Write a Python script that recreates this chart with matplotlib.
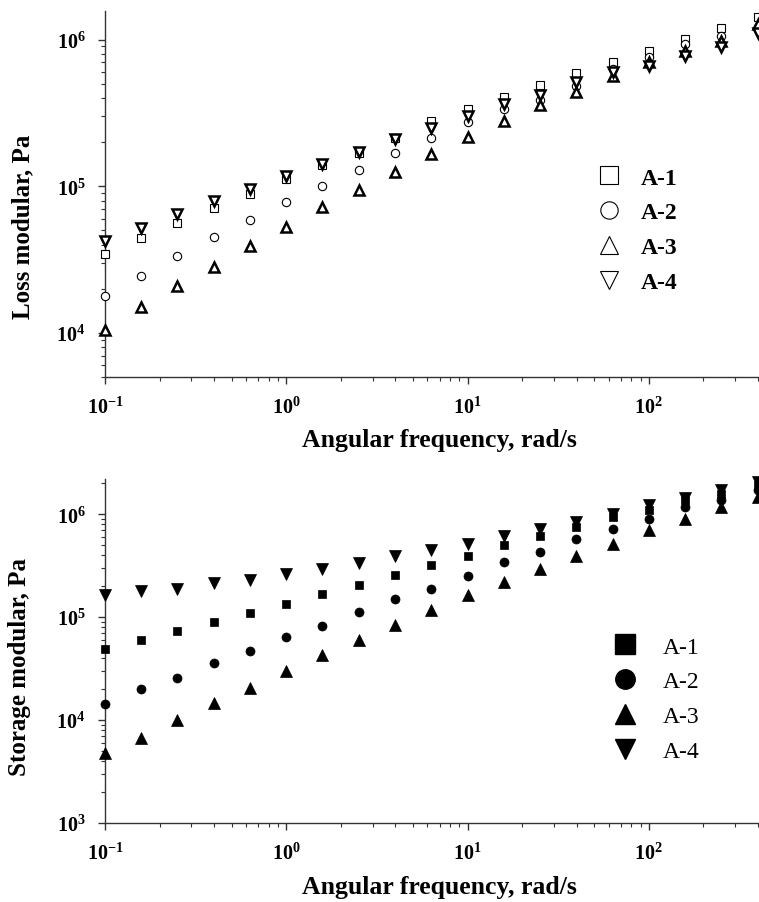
import matplotlib
matplotlib.use('Agg')
import matplotlib.pyplot as plt
from matplotlib.lines import Line2D
from matplotlib.ticker import LogLocator, NullFormatter

plt.rcParams['font.family'] = ['Liberation Serif', 'DejaVu Serif']
plt.rcParams['font.weight'] = 'bold'
plt.rcParams['axes.unicode_minus'] = True

# angular frequency, rad/s
freq = [0.1, 0.158, 0.251, 0.398, 0.631, 1.0, 1.58, 2.51, 3.98, 6.31,
        10, 15.8, 25.1, 39.8, 63.1, 100, 158, 251, 398]

labels = ['A-1', 'A-2', 'A-3', 'A-4']

# loss modulus, Pa
loss_a1 = [34300, 44100, 56400, 71300, 89200, 113000, 139000, 168000, 213000, 277000,
           338000, 409000, 492000, 593000, 708000, 841000, 1010000, 1196000, 1420000]
loss_a2 = [17900, 24400, 33400, 44800, 59300, 78700, 100000, 130000, 169000, 213000,
           274000, 338000, 390000, 480000, 632000, 759000, 935000, 1065000, 1230000]
loss_a3 = [10500, 15000, 21000, 28300, 39100, 52900, 72000, 94000, 125000, 167000,
           217000, 277000, 356000, 443000, 563000, 702000, 841000, 985000, 1280000]
loss_a4 = [42300, 52100, 65200, 80000, 96500, 117000, 141000, 171000, 211000, 250000,
           304000, 365000, 421000, 513000, 600000, 659000, 771000, 888000, 1120000]

# storage modulus, Pa
stor_a1 = [49400, 60400, 73400, 89800, 110000, 133000, 167000, 204000, 255000, 319000,
           394000, 499000, 616000, 753000, 944000, 1094000, 1369000, 1590000, 1914000]
stor_a2 = [14200, 19900, 25600, 35800, 46900, 64200, 81400, 112000, 151000, 189000,
           249000, 344000, 431000, 571000, 715000, 894000, 1180000, 1370000, 1711000]
stor_a3 = [4800, 6730, 9910, 14700, 20700, 29700, 42500, 60400, 84600, 118000,
           163000, 220000, 296000, 394000, 519000, 698000, 894000, 1180000, 1476000]
stor_a4 = [163000, 178000, 189000, 213000, 232000, 261000, 292000, 339000, 394000, 447000,
           519000, 616000, 726000, 844000, 1015000, 1223000, 1444000, 1711000, 2066000]

W, H = 759, 903
fig = plt.figure(figsize=(W / 100, H / 100), dpi=100)

ax1 = fig.add_axes([105 / W, 1 - 378 / H, 654 / W, 366 / H])
ax2 = fig.add_axes([105 / W, 1 - 824 / H, 654 / W, 344 / H])

markers = ['s', 'o', '^', 'v']
sizes = [5.5, 6, 7, 7.5]
open_lw = [0.8, 0.8, 1.8, 1.8]

for ys, m, s, lw in zip([loss_a1, loss_a2, loss_a3, loss_a4], markers, sizes, open_lw):
    ax1.plot(freq, ys, ls='none', marker=m, ms=s, mfc='white', mec='black',
             mew=lw, clip_on=False, zorder=3)

fill_sizes = [5.5, 6.5, 9, 9]
for ys, m, s in zip([stor_a1, stor_a2, stor_a3, stor_a4], markers, fill_sizes):
    ax2.plot(freq, ys, ls='none', marker=m, ms=s, mfc='black', mec='black',
             mew=0.5, clip_on=False, zorder=3)

for ax in (ax1, ax2):
    ax.set_xscale('log')
    ax.set_yscale('log')
    ax.set_xlim(0.1, 405)
    ax.spines['top'].set_visible(False)
    ax.spines['right'].set_visible(False)
    for sp in ('left', 'bottom'):
        ax.spines[sp].set_color('#333333')
        ax.spines[sp].set_linewidth(1.0)
    ax.xaxis.set_minor_locator(LogLocator(base=10, subs=range(2, 10)))
    ax.yaxis.set_minor_locator(LogLocator(base=10, subs=range(2, 10)))
    ax.xaxis.set_minor_formatter(NullFormatter())
    ax.yaxis.set_minor_formatter(NullFormatter())
    ax.tick_params(which='major', direction='out', length=5, width=1, color='#333333',
                   labelsize=14.5)
    ax.tick_params(which='minor', direction='out', length=3, width=0.8, color='#333333')
    ax.tick_params(axis='x', pad=9)
    ax.tick_params(axis='y', pad=9)

ax1.set_ylim(5000, 1.57e6)
ax2.set_ylim(1000, 2.2e6)

fig.text(23 / W, 1 - 227 / H, 'Loss modular, Pa', rotation=90, ha='center', va='center',
         fontsize=18)
fig.text(20 / W, 1 - 667 / H, 'Storage modular, Pa', rotation=90, ha='center', va='center',
         fontsize=18)
fig.text(439 / W, 1 - 441 / H, 'Angular frequency, rad/s', ha='center', va='center',
         fontsize=18.5)
fig.text(439 / W, 1 - 888 / H, 'Angular frequency, rad/s', ha='center', va='center',
         fontsize=18.5)

h_open = [Line2D([], [], ls='none', marker=m, ms=12.5, mfc='white', mec='black', mew=0.8)
          for m in markers]
leg1 = ax1.legend(h_open, labels, loc='upper left', bbox_to_anchor=(595 / W, 1 - 168 / H),
                  bbox_transform=fig.transFigure, frameon=False, borderpad=0, borderaxespad=0,
                  handlelength=1.2, handletextpad=0.75, labelspacing=0.56,
                  prop={'size': 17, 'weight': 'bold'})

h_fill = [Line2D([], [], ls='none', marker=m, ms=14, mfc='black', mec='black')
          for m in markers]
leg2 = ax2.legend(h_fill, labels, loc='upper left', bbox_to_anchor=(611 / W, 1 - 637 / H),
                  bbox_transform=fig.transFigure, frameon=False, borderpad=0, borderaxespad=0,
                  handlelength=1.2, handletextpad=1.0, labelspacing=0.56,
                  prop={'size': 17, 'weight': 'normal'})

fig.savefig('out.png', dpi=100)
